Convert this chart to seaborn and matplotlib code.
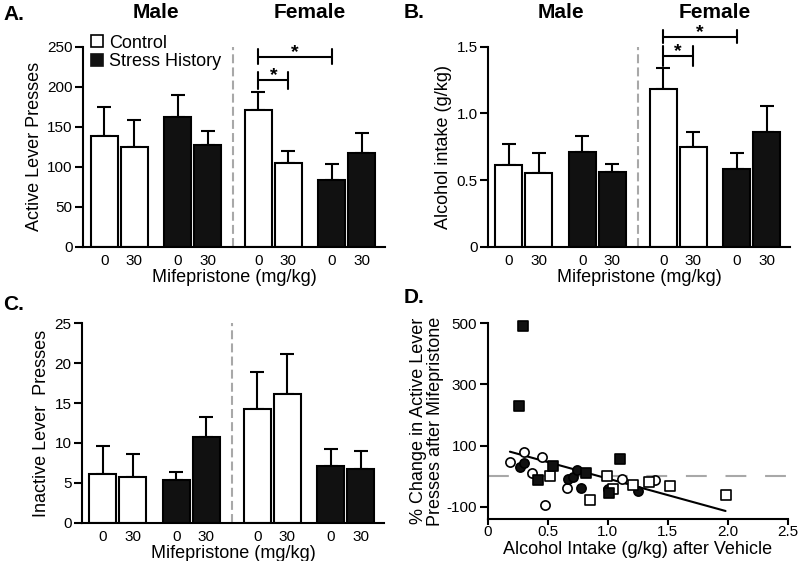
import numpy as np
import pandas as pd
import matplotlib
matplotlib.use('Agg')
import matplotlib.pyplot as plt
import matplotlib.transforms as mtransforms
from matplotlib.lines import Line2D
import seaborn as sns

sns.set_style('ticks')
plt.rcParams.update({
    'font.family': ['Liberation Sans', 'DejaVu Sans'],
    'axes.unicode_minus': False,
    'axes.linewidth': 1.5,
    'axes.edgecolor': 'black',
    'xtick.color': 'black',
    'ytick.color': 'black',
    'text.color': 'black',
    'axes.labelcolor': 'black',
})

# ---- bar panel data (A, B, C) ----
sexes = ['Male'] * 4 + ['Female'] * 4
groups = ['Control', 'Control', 'Stress History', 'Stress History'] * 2
doses = ['0', '30', '0', '30', '0', '30', '0', '30']

active_mean = [138, 124, 162, 127, 171, 104, 83, 117.5]
active_sem = [37, 34, 28, 17, 22, 16, 20, 25]

intake_mean = [0.61, 0.55, 0.71, 0.56, 1.18, 0.75, 0.58, 0.86]
intake_sem = [0.16, 0.15, 0.12, 0.06, 0.16, 0.11, 0.12, 0.195]

inactive_mean = [6.1, 5.7, 5.3, 10.7, 14.3, 16.1, 7.15, 6.7]
inactive_sem = [3.5, 2.9, 1.1, 2.6, 4.6, 5.0, 2.05, 2.3]

# ---- scatter data (D) ----
circ_open_x = [0.185, 0.30, 0.45, 0.37, 0.48, 0.66, 1.12, 1.39]
circ_open_y = [45, 78, 63, 9, -95, -40, -9, -11]
circ_fill_x = [0.27, 0.30, 0.67, 0.71, 0.745, 0.78, 1.00, 1.25]
circ_fill_y = [31, 44, -10, -4, 20, -40, -42, -50]
sq_open_x = [0.52, 0.855, 0.99, 1.04, 1.21, 1.34, 1.52, 1.98]
sq_open_y = [0, -78, 2, -42, -29, -20, -32, -60]
sq_fill_x = [0.295, 0.262, 0.54, 0.42, 0.815, 1.01, 1.10]
sq_fill_y = [490, 228, 34, -13, 9, -54, 56]

fit_slope = -108
fit_intercept = 100

# ---- layout ----
bar_pos = [0, 1, 2.45, 3.45, 5.15, 6.15, 7.6, 8.6]
divider_x = 4.3
palette = {'Control': 'white', 'Stress History': '#111111'}
gray = '#a8a8a8'

fig = plt.figure(figsize=(8, 5.61), dpi=100)
axA = fig.add_axes([0.104, 0.5603, 0.3775, 0.3565])
axB = fig.add_axes([0.610, 0.5603, 0.3775, 0.3565])
axC = fig.add_axes([0.1025, 0.0683, 0.3775, 0.3554])
axD = fig.add_axes([0.6096, 0.0749, 0.3754, 0.349])


def bar_panel(ax, means, sems, ylim, yticks, yticklabels, ylabel):
    df = pd.DataFrame({'pos': bar_pos, 'value': means, 'group': groups, 'sex': sexes})
    sns.barplot(data=df, x='pos', y='value', hue='group', native_scale=True, dodge=False,
                palette=palette, edgecolor='black', linewidth=1.5, width=0.9,
                errorbar=None, legend=False, ax=ax, zorder=2)
    ax.errorbar(bar_pos, means, yerr=[np.zeros(len(sems)), sems], fmt='none',
                ecolor='black', elinewidth=1.5, capsize=5, capthick=1.5, zorder=1)
    ax.axvline(divider_x, color=gray, ls=(0, (4.3, 2)), lw=1.5, zorder=0)
    ax.set_xlim(-0.7, 9.38)
    ax.set_ylim(*ylim)
    ax.set_yticks(yticks, yticklabels)
    ax.set_xticks(bar_pos, doses)
    ax.tick_params(axis='x', length=0, pad=5, labelsize=11)
    ax.tick_params(axis='y', length=5.5, width=1.5, pad=2, labelsize=11)
    ax.set_xlabel('Mifepristone (mg/kg)', fontsize=13, labelpad=1)
    ax.set_ylabel(ylabel, fontsize=13, labelpad=3)
    sns.despine(ax=ax)


def sex_titles(ax):
    trans = mtransforms.blended_transform_factory(ax.transData, ax.transAxes)
    ax.text(np.mean(bar_pos[:4]), 1.17, 'Male', transform=trans, ha='center', va='center',
            fontsize=15, fontweight='bold')
    ax.text(np.mean(bar_pos[4:]), 1.17, 'Female', transform=trans, ha='center', va='center',
            fontsize=15, fontweight='bold')


def bracket(ax, x0, x1, y, half):
    kw = dict(color='black', lw=1.5, clip_on=False)
    ax.plot([x0, x1], [y, y], **kw)
    ax.plot([x0, x0], [y - half, y + half], **kw)
    ax.plot([x1, x1], [y - half, y + half], **kw)
    ax.annotate('*', xy=((x0 + x1) / 2, y), xytext=(0, -3), textcoords='offset points',
                ha='center', va='bottom', fontsize=14, fontweight='bold', annotation_clip=False)


# A
bar_panel(axA, active_mean, active_sem, (0, 250), [0, 50, 100, 150, 200, 250],
          ['0', '50', '100', '150', '200', '250'], 'Active Lever Presses')
sex_titles(axA)
bracket(axA, bar_pos[4], bar_pos[6], 237.5, 9.5)
bracket(axA, bar_pos[4], bar_pos[5], 208, 10.5)
handles = [Line2D([], [], marker='s', ls='none', mfc='white', mec='black', ms=9, mew=1.2),
           Line2D([], [], marker='s', ls='none', mfc='#111111', mec='#111111', ms=9, mew=1.2)]
axA.legend(handles, ['Control', 'Stress History'], loc='upper left', bbox_to_anchor=(0.025, 1.06),
           frameon=False, fontsize=13, handlelength=0.7, handletextpad=0.3, labelspacing=0.1,
           borderaxespad=0, borderpad=0)

# B
bar_panel(axB, intake_mean, intake_sem, (0, 1.5), [0, 0.5, 1.0, 1.5],
          ['0', '0.5', '1.0', '1.5'], 'Alcohol intake (g/kg)')
sex_titles(axB)
bracket(axB, bar_pos[4], bar_pos[6], 1.575, 0.05)
bracket(axB, bar_pos[4], bar_pos[5], 1.43, 0.075)

# C
bar_panel(axC, inactive_mean, inactive_sem, (0, 25), [0, 5, 10, 15, 20, 25],
          ['0', '5', '10', '15', '20', '25'], 'Inactive Lever  Presses')

# D
sc_kw = dict(s=44, linewidth=1.2, edgecolor='black', ax=axD, zorder=3, clip_on=False)
sns.scatterplot(x=circ_open_x, y=circ_open_y, marker='o', color='white', **sc_kw)
sns.scatterplot(x=circ_fill_x, y=circ_fill_y, marker='o', color='#111111', **sc_kw)
sns.scatterplot(x=sq_open_x, y=sq_open_y, marker='s', color='white', **sc_kw)
sns.scatterplot(x=sq_fill_x, y=sq_fill_y, marker='s', color='#111111', **sc_kw)
all_x = np.concatenate([circ_open_x, circ_fill_x, sq_open_x, sq_fill_x])
fx = np.array([all_x.min(), all_x.max()])
axD.plot(fx, fit_intercept + fit_slope * fx, color='black', lw=1.5, zorder=2)
axD.axhline(0, color=gray, ls=(0, (10, 9)), lw=1.5, zorder=1)
axD.set_xlim(0, 2.5)
axD.set_ylim(-140, 500)
axD.set_xticks([0, 0.5, 1.0, 1.5, 2.0, 2.5], ['0', '0.5', '1.0', '1.5', '2.0', '2.5'])
axD.set_yticks([-100, 100, 300, 500], ['-100', '100', '300', '500'])
axD.tick_params(axis='x', length=4.5, width=1.5, pad=0, labelsize=11)
axD.tick_params(axis='y', length=5.5, width=1.5, pad=2, labelsize=11)
axD.set_xlabel('Alcohol Intake (g/kg) after Vehicle', fontsize=13, labelpad=1)
axD.set_ylabel('% Change in Active Lever\nPresses after Mifepristone', fontsize=13,
               labelpad=2, linespacing=1.0)
sns.despine(ax=axD)

for lab, x, y in [('A.', 0.004, 0.974), ('B.', 0.504, 0.978), ('C.', 0.004, 0.457), ('D.', 0.504, 0.47)]:
    fig.text(x, y, lab, fontsize=15, fontweight='bold', ha='left', va='center')

fig.savefig('out.png', dpi=100)
